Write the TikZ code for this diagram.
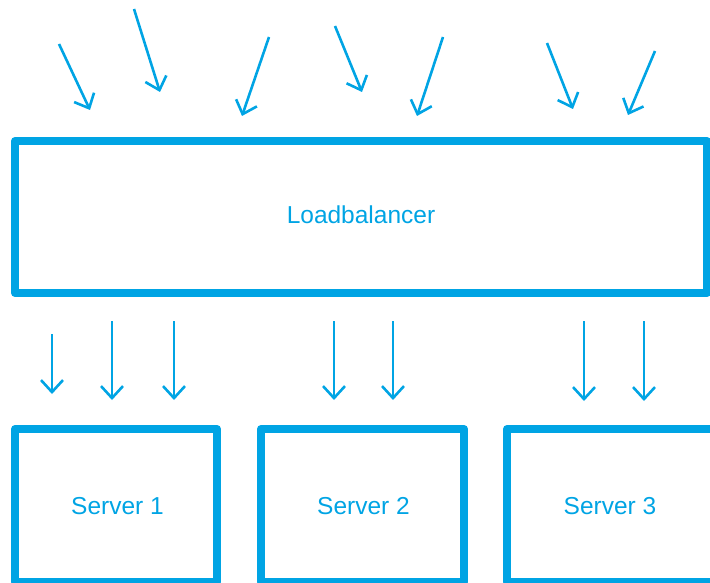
\documentclass[tikz,border=0pt]{standalone}
\usepackage{fontspec}
\setmainfont{Liberation Sans}
\usetikzlibrary{arrows.meta}
\definecolor{lbblue}{RGB}{0,164,228}
\tikzset{
  box/.style={draw=lbblue, line width=8pt, line join=round, inner sep=0pt},
  caption/.style={inner sep=0pt, text=lbblue, font=\fontsize{24.5}{28}\selectfont},
  flow/.style={draw=lbblue, line width=2.6pt,
    -{Straight Barb[length=12pt, width=22pt]}}
}
\begin{document}
\begin{tikzpicture}[x=1pt, y=-1pt]
  \useasboundingbox (0,0) rectangle (710,583);
  \clip (0,0) rectangle (710,583);

  % load balancer and the three servers
  \node[box, minimum width=692pt, minimum height=152pt] (lb) at (361,217) {};
  \node[box, minimum width=202pt, minimum height=153pt] (s1) at (116,505.5) {};
  \node[box, minimum width=203pt, minimum height=153pt] (s2) at (362.5,505.5) {};
  \node[box, minimum width=214pt, minimum height=153pt] (s3) at (614,505.5) {};

  % their captions
  \node[caption] (lbt) at (361,214.5) {Loadbalancer};
  \node[caption] (s1t) at (117.5,506) {Server 1};
  \node[caption] (s2t) at (363.5,506) {Server 2};
  \node[caption] (s3t) at (610,506) {Server 3};

  % incoming requests
  \coordinate (r1a) at (59,44);   \coordinate (r1b) at (90,110);
  \coordinate (r2a) at (134,9);   \coordinate (r2b) at (160,92);
  \coordinate (r3a) at (269,37);  \coordinate (r3b) at (242,116);
  \coordinate (r4a) at (335,26);  \coordinate (r4b) at (362,92);
  \coordinate (r5a) at (443,37);  \coordinate (r5b) at (417,116);
  \coordinate (r6a) at (547,43);  \coordinate (r6b) at (573,109);
  \coordinate (r7a) at (655,51);  \coordinate (r7b) at (628,115);
  \foreach \i in {1,...,7} \draw[flow] (r\i a) -- (r\i b);

  % requests forwarded to the servers
  \coordinate (d1a) at (52,334);  \coordinate (d1b) at (52,394);
  \coordinate (d2a) at (112,321); \coordinate (d2b) at (112,400);
  \coordinate (d3a) at (174,321); \coordinate (d3b) at (174,400);
  \coordinate (d4a) at (334,321); \coordinate (d4b) at (334,400);
  \coordinate (d5a) at (393,321); \coordinate (d5b) at (393,400);
  \coordinate (d6a) at (584,321); \coordinate (d6b) at (584,401);
  \coordinate (d7a) at (644,321); \coordinate (d7b) at (644,401);
  \foreach \i in {1,...,7} \draw[flow] (d\i a) -- (d\i b);
\end{tikzpicture}
\end{document}
